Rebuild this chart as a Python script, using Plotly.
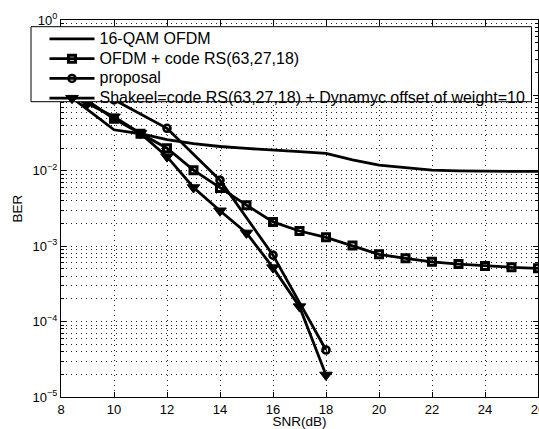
import plotly.graph_objects as go

# ---- data ----
snr = list(range(8, 27))
ber_qam = [0.12, 0.065, 0.035, 0.031, 0.026, 0.023, 0.021, 0.0198, 0.019, 0.018,
           0.017, 0.014, 0.0119, 0.011, 0.0102, 0.0100, 0.0098, 0.0098, 0.0098]
ber_rs = [0.14, 0.085, 0.049, 0.031, 0.0199, 0.0102, 0.0059, 0.0035, 0.0021, 0.00159,
          0.00131, 0.00102, 0.00078, 0.00069, 0.00062, 0.00058, 0.000546, 0.000525, 0.000509]
snr_prop = [8, 10, 12, 14, 16, 18]
ber_prop = [0.21, 0.087, 0.0366, 0.0075, 0.00076, 0.000042]
snr_shak = list(range(8, 19))
ber_shak = [0.13, 0.078, 0.052, 0.0314, 0.0154, 0.0060, 0.00295, 0.0015,
            0.00052, 0.000158, 0.0000196]

names = ["16-QAM OFDM",
         "OFDM + code RS(63,27,18)",
         "proposal",
         "Shakeel=code RS(63,27,18) + Dynamyc offset of weight=10"]

x_ticks = [8, 10, 12, 14, 16, 18, 20, 22, 24, 26]
y_major = [1e-5, 1e-4, 1e-3, 1e-2, 1e-1, 1]
y_major_text = ["10<sup>−5</sup>", "10<sup>−4</sup>", "10<sup>−3</sup>",
                "10<sup>−2</sup>", "10<sup>−1</sup>", "10<sup>0</sup>"]

FONT = "Liberation Sans, Arial, Helvetica, sans-serif"
LW = 2.8
W, H = 539, 429
ML, MR, MT, MB = 61, 1, 20, 32
PW, PH = W - ML - MR, H - MT - MB


def px2paper_x(px):
    return (px - ML) / PW


def px2paper_y(py):
    return (H - MB - py) / PH


def leg(t):
    return '<span style="font-size:16px">' + t + '</span>'


fig = go.Figure()
fig.add_trace(go.Scatter(x=snr, y=ber_qam, mode="lines", name=leg(names[0]),
                         line=dict(color="black", width=LW)))
fig.add_trace(go.Scatter(x=snr, y=ber_rs, mode="lines+markers", name=leg(names[1]),
                         line=dict(color="black", width=LW),
                         marker=dict(symbol="square-open", size=7, color="black",
                                     line=dict(width=3, color="black"))))
fig.add_trace(go.Scatter(x=snr_prop, y=ber_prop, mode="lines+markers", name=leg(names[2]),
                         line=dict(color="black", width=LW),
                         marker=dict(symbol="circle-open", size=7, color="black",
                                     line=dict(width=2.6, color="black"))))
fig.add_trace(go.Scatter(x=snr_shak, y=ber_shak, mode="lines+markers", name=leg(names[3]),
                         line=dict(color="black", width=LW),
                         marker=dict(symbol="triangle-down", size=11, color="black",
                                     line=dict(width=1, color="black"))))

minor_vals = [m * d for d in [1e-5, 1e-4, 1e-3, 1e-2, 1e-1] for m in range(2, 10)]

GC = "#222222"
GD = "1px,4px"

fig.update_layout(
    width=W, height=H,
    margin=dict(l=ML, r=MR, t=MT, b=MB, autoexpand=False),
    paper_bgcolor="white", plot_bgcolor="white",
    font=dict(family=FONT, color="black", size=13),
    showlegend=True,
    legend=dict(x=px2paper_x(44.5), y=px2paper_y(24), xanchor="left", yanchor="top",
                bgcolor="rgba(0,0,0,0)", borderwidth=0, itemwidth=45,
                font=dict(family=FONT, size=12.9, color="black"), tracegroupgap=0),
    shapes=[dict(type="rect", xref="paper", yref="paper",
                 x0=px2paper_x(31), x1=px2paper_x(531.5),
                 y0=px2paper_y(101.7), y1=px2paper_y(26.7),
                 fillcolor="white", line=dict(color="black", width=1), layer="above")],
    xaxis=dict(range=[8, 26], tickmode="array", tickvals=x_ticks,
               ticklabeloverflow="allow",
               showgrid=True, gridcolor=GC, griddash=GD, gridwidth=1,
               zeroline=False, showline=True, linecolor="black", linewidth=1,
               mirror="allticks", ticks="inside", ticklen=5, tickcolor="black",
               tickfont=dict(size=13),
               title=dict(text="SNR(dB)", font=dict(size=13.5), standoff=9)),
    yaxis=dict(type="log", range=[-5, 0], tickmode="array",
               tickvals=y_major, ticktext=y_major_text,
               showgrid=True, gridcolor=GC, griddash=GD, gridwidth=1,
               zeroline=False, showline=True, linecolor="black", linewidth=1,
               mirror="allticks", ticks="inside", ticklen=5, tickcolor="black",
               tickfont=dict(size=13),
               minor=dict(tickmode="array", tickvals=minor_vals, showgrid=True,
                          gridcolor=GC, griddash=GD, gridwidth=1,
                          ticks="inside", ticklen=3, tickcolor="black"),
               title=dict(text="BER", font=dict(size=13.5), standoff=6)),
)

fig.write_html("out.html")
